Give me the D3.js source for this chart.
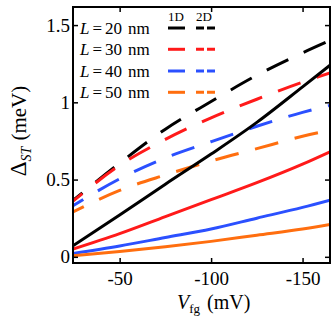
<!doctype html>
<html>
<head>
<meta charset="utf-8">
<style>
  body { margin: 0; background: #fff; }
  svg text { font-family: "Liberation Serif", "DejaVu Serif", serif; fill: #000; }
</style>
</head>
<body>
<div class="chart"></div>
<script src="https://d3js.org/d3.v7.min.js"></script>
<script>
// gate voltage (mV)
let vfg = [-24.5, -50, -75, -100, -125, -150, -165];

// 1D (solid) curves, meV
let oneD20 = [0.072, 0.27, 0.47, 0.665, 0.87, 1.10, 1.24];
let oneD30 = [0.05, 0.15, 0.26, 0.37, 0.48, 0.60, 0.68];
let oneD40 = [0.022, 0.07, 0.125, 0.18, 0.25, 0.32, 0.367];
let oneD50 = [0.007, 0.035, 0.065, 0.10, 0.14, 0.18, 0.21];

// 2D (dashed) curves, meV
let twoD20 = [0.365, 0.606, 0.826, 1.005, 1.175, 1.32, 1.40];
let twoD30 = [0.36, 0.592, 0.76, 0.90, 1.02, 1.13, 1.19];
let twoD40 = [0.33, 0.505, 0.64, 0.745, 0.845, 0.935, 0.98];
let twoD50 = [0.29, 0.43, 0.53, 0.62, 0.70, 0.78, 0.82];

let lengths = ["20", "30", "40", "50"];
let colors = ["#000000", "#ff1a1a", "#2b50ff", "#ff6e0f"];

let xTicks = [-50, -100, -150];
let yTicks = [0, 0.5, 1, 1.5];
let yTickLabels = ["0", "0.5", "1", "1.5"];

let width = 333, height = 319;
let mLeft = 73, mRight = 330, mTop = 7, mBottom = 263;

let svg = d3.select(".chart").append("svg")
  .attr("width", width)
  .attr("height", height);

let x = d3.scaleLinear().domain([-24.5, -165]).range([mLeft, mRight]);
let y = d3.scaleLinear().domain([-0.04, 1.617]).range([mBottom, mTop]);

svg.append("clipPath").attr("id", "clip")
  .append("rect")
  .attr("x", mLeft).attr("y", mTop)
  .attr("width", mRight - mLeft).attr("height", mBottom - mTop);

let line = d3.line()
  .x(d => x(d[0]))
  .y(d => y(d[1]))
  .curve(d3.curveMonotoneX);

let oneD = [oneD20, oneD30, oneD40, oneD50];
let twoD = [twoD20, twoD30, twoD40, twoD50];

let plot = svg.append("g").attr("clip-path", "url(#clip)");

// dashed 2D first, solid 1D on top
twoD.forEach((s, i) => {
  plot.append("path")
    .attr("d", line(vfg.map((v, j) => [v, s[j]])))
    .attr("fill", "none")
    .attr("stroke", colors[i])
    .attr("stroke-width", 3)
    .attr("stroke-dasharray", "24,17")
    .attr("stroke-dashoffset", 12);
});

oneD.forEach((s, i) => {
  plot.append("path")
    .attr("d", line(vfg.map((v, j) => [v, s[j]])))
    .attr("fill", "none")
    .attr("stroke", colors[i])
    .attr("stroke-width", 3);
});

// axes, ticks inside on all four sides
let tk = 5;
svg.append("g")
  .attr("transform", "translate(0," + mBottom + ")")
  .call(d3.axisBottom(x).tickValues(xTicks).tickSize(-tk).tickPadding(9).tickFormat(d => d))
  .call(g => g.select(".domain").remove());
svg.append("g")
  .attr("transform", "translate(0," + mTop + ")")
  .call(d3.axisTop(x).tickValues(xTicks).tickSize(-tk).tickFormat(""))
  .call(g => g.select(".domain").remove());
svg.append("g")
  .attr("transform", "translate(" + mLeft + ",0)")
  .call(d3.axisLeft(y).tickValues(yTicks).tickSize(-tk).tickPadding(3)
    .tickFormat((d, i) => yTickLabels[i]))
  .call(g => g.select(".domain").remove());
svg.append("g")
  .attr("transform", "translate(" + mRight + ",0)")
  .call(d3.axisRight(y).tickValues(yTicks).tickSize(-tk).tickFormat(""))
  .call(g => g.select(".domain").remove());

svg.selectAll(".tick line").attr("stroke", "#000").attr("stroke-width", 1.5);
svg.selectAll(".tick text").style("font-size", "19px")
  .style("font-family", "Liberation Serif, serif").attr("fill", "#000");

svg.append("rect")
  .attr("x", mLeft).attr("y", mTop)
  .attr("width", mRight - mLeft).attr("height", mBottom - mTop)
  .attr("fill", "none")
  .attr("stroke", "#000")
  .attr("stroke-width", 2);

// axis labels
let xl = svg.append("text")
  .attr("x", 177).attr("y", 309)
  .style("font-size", "20px")
  .attr("xml:space", "preserve");
xl.append("tspan").style("font-style", "italic").text("V");
xl.append("tspan").style("font-size", "13px").attr("dy", 4).text("fg");
xl.append("tspan").attr("dy", -4).attr("dx", 7).text("(mV)");

let yl = svg.append("text")
  .attr("transform", "translate(26,131) rotate(-90)")
  .attr("text-anchor", "middle")
  .style("font-size", "21px");
yl.append("tspan").style("font-size", "23px").text("Δ");
yl.append("tspan").style("font-style", "italic").style("font-size", "14px").attr("dy", 5).text("ST");
yl.append("tspan").attr("dy", -5).attr("dx", 6).text("(meV)");

// legend
let rowY = [28, 49.3, 71, 92.3];
svg.append("text").attr("x", 168).attr("y", 21).style("font-size", "13px").text("1D");
svg.append("text").attr("x", 196).attr("y", 21).style("font-size", "13px").text("2D");

lengths.forEach((L, i) => {
  let t = svg.append("text")
    .attr("x", 80).attr("y", rowY[i] + 6)
    .style("font-size", "17px");
  t.append("tspan").style("font-style", "italic").text("L");
  t.append("tspan").attr("dx", 3).text("=");
  t.append("tspan").attr("dx", 3).text(L);
  t.append("tspan").attr("dx", 6).text("nm");

  svg.append("line")
    .attr("x1", 168).attr("x2", 185)
    .attr("y1", rowY[i]).attr("y2", rowY[i])
    .attr("stroke", colors[i]).attr("stroke-width", 3);
  svg.append("line")
    .attr("x1", 196).attr("x2", 215)
    .attr("y1", rowY[i]).attr("y2", rowY[i])
    .attr("stroke", colors[i]).attr("stroke-width", 3)
    .attr("stroke-dasharray", "8,3");
});
</script>
</body>
</html>
